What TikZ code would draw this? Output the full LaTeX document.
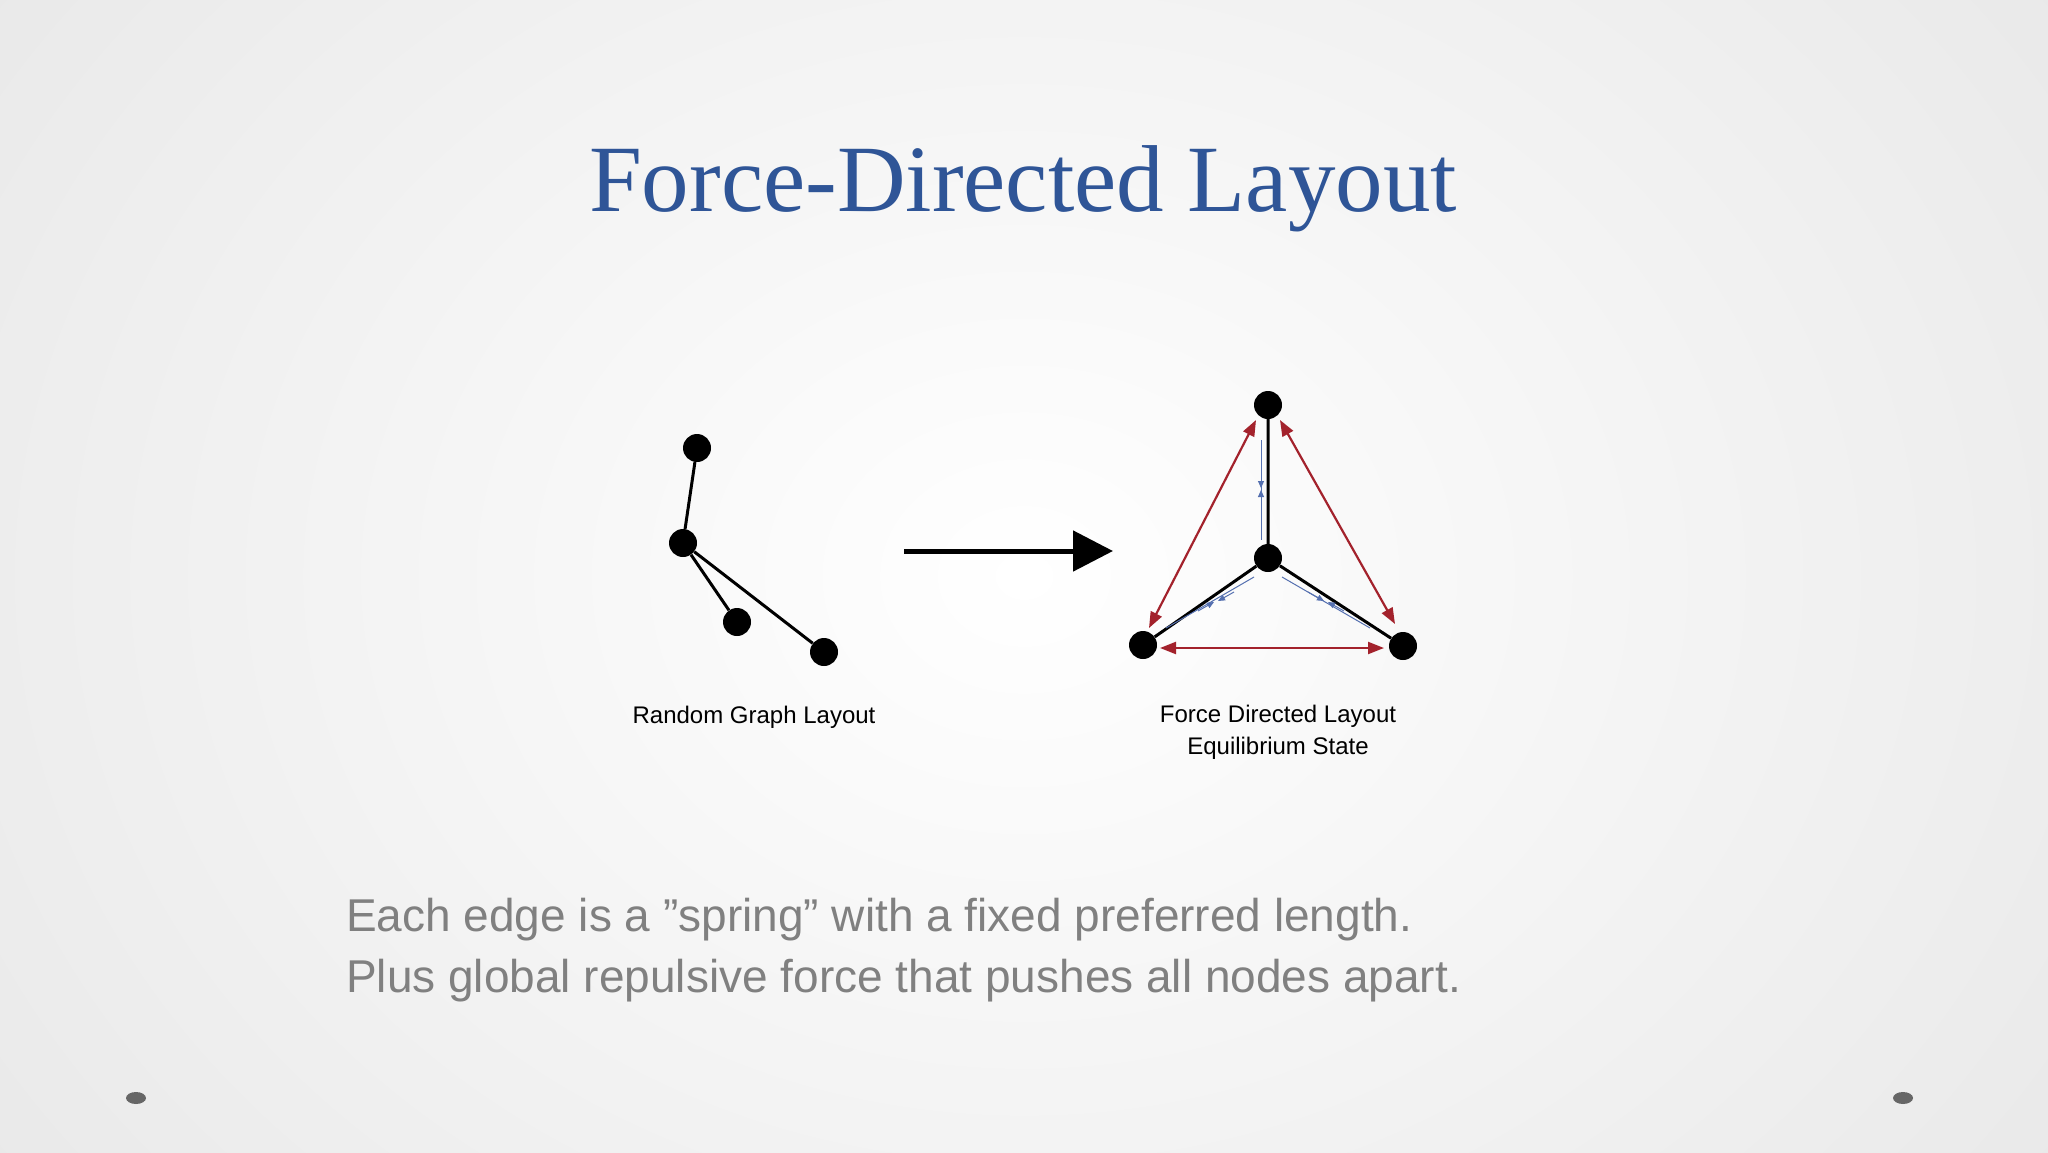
\documentclass[tikz,border=0pt]{standalone}
\usepackage{fontspec}
\setmainfont{Liberation Serif}
\setsansfont{Liberation Sans}
\usetikzlibrary{arrows.meta}
\definecolor{titleblue}{HTML}{2F5597}
\definecolor{bodygray}{HTML}{808080}
\definecolor{forcered}{HTML}{A3222C}
\definecolor{springblue}{HTML}{5570B0}
\tikzset{
  dot/.style={circle,fill=black,inner sep=0pt,minimum size=28pt},
  edge/.style={line width=3pt,black},
  repel/.style={line width=2.2pt,forcered,{Triangle[length=16pt,width=12pt]}-{Triangle[length=16pt,width=12pt]}},
  spring/.style={line width=1pt,springblue},
  captext/.style={font=\sffamily\fontsize{24}{32}\selectfont,align=center},
}
\begin{document}
\begin{tikzpicture}[x=1pt,y=-1pt]
\useasboundingbox (0,0) rectangle (2048,1152);
\clip (0,0) rectangle (2048,1152);
\shade[inner color=white,outer color=black!9] (-300,-500) rectangle (2348,1652);
\node[font=\fontsize{95}{100}\selectfont,text=titleblue] (title) at (1023,189) {Force-Directed Layout};
% left graph
\node[dot] (a) at (697,448) {};
\node[dot] (b) at (683,543) {};
\node[dot] (c) at (737,622) {};
\node[dot] (d) at (824,652) {};
\draw[edge] (a)--(b) (b)--(c) (b)--(d);
\node[captext] (l1) at (754,717) {Random Graph Layout};
% arrow
\coordinate (s) at (904,551); \coordinate (e) at (1113,551);
\draw[line width=5pt,-{Triangle[length=40pt,width=40pt]}] (s)--(e);
% right graph
\node[dot] (t) at (1268,405) {};
\node[dot] (m) at (1268,558) {};
\node[dot] (L) at (1143,645) {};
\node[dot] (R) at (1403,646) {};
\draw[edge] (t)--(m) (m)--(L) (m)--(R);
\coordinate (r1a) at (1256,420); \coordinate (r1b) at (1149,628);
\coordinate (r2a) at (1280,420); \coordinate (r2b) at (1395,624);
\coordinate (r3a) at (1160,648); \coordinate (r3b) at (1384,648);
\draw[repel] (r1a)--(r1b);
\draw[repel] (r2a)--(r2b);
\draw[repel] (r3a)--(r3b);
% springs
\coordinate (v1) at (1261,440); \coordinate (v2) at (1261,540);
\draw[spring] (v1)--(v2);
\draw[spring,-{Triangle[length=7pt,width=6pt]}] (1261,470)--(1261,488);
\draw[spring,-{Triangle[length=7pt,width=6pt]}] (1261,506)--(1261,490);
\coordinate (w1) at (1254,577); \coordinate (w2) at (1166,628);
\draw[spring] (w1)--(w2);
\draw[spring,-{Triangle[length=7pt,width=6pt]}] (1198,611)--(1214,602);
\draw[spring,-{Triangle[length=7pt,width=6pt]}] (1234,592)--(1218,601);
\coordinate (x1) at (1282,577); \coordinate (x2) at (1370,628);
\draw[spring] (x1)--(x2);
\draw[spring,-{Triangle[length=7pt,width=6pt]}] (1308,592)--(1324,601);
\draw[spring,-{Triangle[length=7pt,width=6pt]}] (1344,611)--(1328,602);
\node[captext] (l2) at (1278,732) {Force Directed Layout\\Equilibrium State};
% body
\node[font=\sffamily\fontsize{46}{61}\selectfont,text=bodygray,anchor=north west,align=left,inner sep=0pt] (body) at (346,898) {Each edge is a \symbol{34}spring\symbol{34} with a fixed preferred length.\\Plus global repulsive force that pushes all nodes apart.};
\fill[black!60] (136,1098) ellipse (10pt and 6pt);
\fill[black!60] (1903,1098) ellipse (10pt and 6pt);
\end{tikzpicture}
\end{document}
